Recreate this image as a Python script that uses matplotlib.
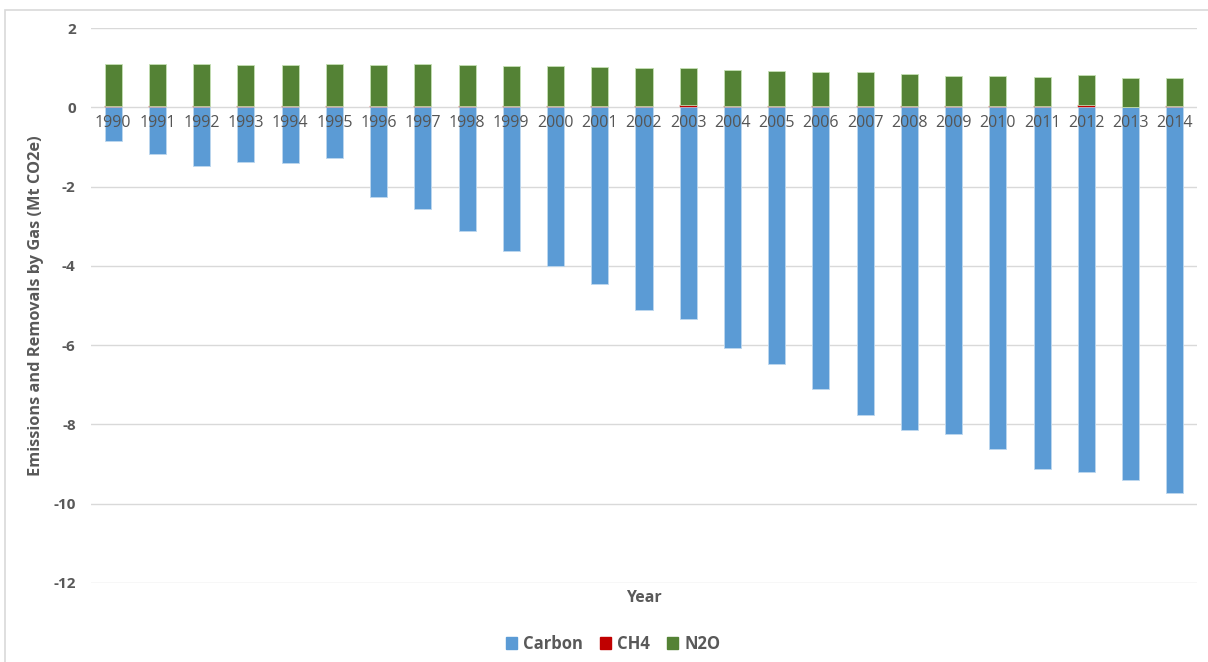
import matplotlib
matplotlib.use("Agg")
import matplotlib.pyplot as plt
from matplotlib.patches import Rectangle, Patch
import numpy as np

years = [str(y) for y in range(1990, 2015)]
carbon = [-0.85, -1.19, -1.47, -1.38, -1.40, -1.29, -2.27, -2.56, -3.11, -3.62,
          -4.00, -4.46, -5.12, -5.34, -6.07, -6.48, -7.10, -7.76, -8.13, -8.25,
          -8.62, -9.12, -9.21, -9.40, -9.73]
ch4 = [0.02, 0.02, 0.02, 0.02, 0.02, 0.04, 0.02, 0.02, 0.02, 0.02,
       0.03, 0.03, 0.03, 0.06, 0.03, 0.03, 0.03, 0.03, 0.03, 0.03,
       0.03, 0.03, 0.06, 0.01, 0.03]
n2o_total = [1.08, 1.08, 1.08, 1.06, 1.06, 1.08, 1.06, 1.08, 1.06, 1.04,
             1.04, 1.01, 0.98, 0.99, 0.93, 0.91, 0.88, 0.88, 0.83, 0.80,
             0.78, 0.77, 0.82, 0.73, 0.75]
n2o = [t - c for t, c in zip(n2o_total, ch4)]
yticks = [2, 0, -2, -4, -6, -8, -10, -12]

c_carbon = "#5b9bd5"
c_ch4 = "#c00000"
c_n2o = "#548235"
txt = "#595959"
grid = "#d9d9d9"

plt.rcParams['font.family'] = ['Open Sans', 'DejaVu Sans']

fig = plt.figure(figsize=(12.08, 6.62), dpi=100)
fig.patches.append(Rectangle((5/1208, -0.01), 1.01, (662-10)/662 + 0.01,
                             transform=fig.transFigure, fill=False,
                             edgecolor=grid, linewidth=1.2))
ax = fig.add_axes([91/1208, (662-583)/662, (1197-91)/1208, (583-28)/662])

x = np.arange(len(years))
w = 0.385
ax.bar(x, carbon, w, color=c_carbon, edgecolor="#bdd7ee", linewidth=0.6, zorder=2)
ax.bar(x, ch4, w, color=c_ch4, edgecolor=c_ch4, linewidth=0.3, zorder=2)
ax.bar(x, n2o, w, bottom=ch4, color=c_n2o, edgecolor="#c5e0b4", linewidth=0.6, zorder=2)

ax.set_xlim(-0.5, len(years) - 0.5)
ax.set_ylim(-12, 2)
ax.set_yticks(yticks)
ax.set_yticklabels([str(v) for v in yticks], fontsize=11, fontweight='bold', color=txt)
ax.yaxis.grid(True, color=grid, linewidth=1, zorder=0)
ax.set_axisbelow(True)
ax.tick_params(axis='y', length=0, pad=11)
ax.set_xticks([])
for s in ax.spines.values():
    s.set_visible(False)

for xi, lab in zip(x, years):
    ax.text(xi, -0.40, lab, ha='center', va='center', fontsize=11.5, color="#555555", zorder=3)

ax.set_ylabel("Emissions and Removals by Gas (Mt CO2e)", fontsize=11.8,
              fontweight='bold', color=txt, labelpad=7)
fig.text(644/1208, (662-598)/662, "Year", ha='center', va='center',
         fontsize=11.5, fontweight='bold', color=txt)

handles = [Patch(color=c_carbon, label="Carbon"), Patch(color=c_ch4, label="CH4"),
           Patch(color=c_n2o, label="N2O")]
leg = fig.legend(handles=handles, loc='center', bbox_to_anchor=(613/1208, (662-644)/662),
                 ncol=3, frameon=False, handlelength=0.7, handleheight=0.7,
                 handletextpad=0.35, columnspacing=1.0,
                 prop={'size': 12, 'weight': 'bold'})
for t in leg.get_texts():
    t.set_color(txt)

fig.savefig("out.png", dpi=100)
